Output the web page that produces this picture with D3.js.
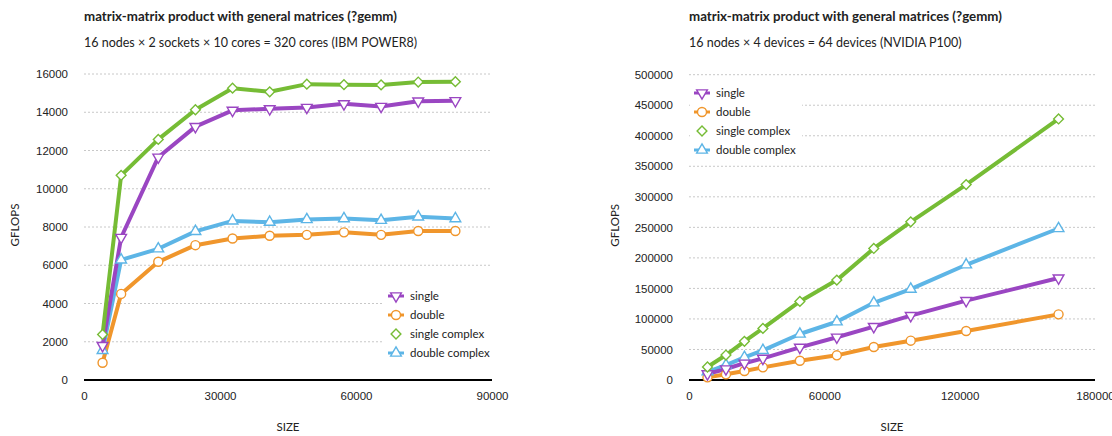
<!DOCTYPE html>
<html>
<head>
<meta charset="utf-8">
<script src="https://cdn.jsdelivr.net/npm/d3@7"></script>
<style>
  html, body { margin: 0; padding: 0; background: #fff; }
  svg { display: block; font-family: Lato, "Noto Sans", sans-serif; }
  .title { font-weight: bold; font-size: 13.3px; fill: #222; }
  .subtitle { font-size: 12.5px; fill: #222; }
  .tick-label { font-size: 11.5px; fill: #222; }
  .axis-title { font-size: 11.5px; fill: #222; }
  .legend-label { font-size: 11.5px; fill: #222; }
</style>
</head>
<body>
<svg id="chart" width="1112" height="436"></svg>
<script>
// Series names and colours shared by both panels
const seriesNames = ["single", "double", "single complex", "double complex"];
const seriesColors = ["#9a46c2", "#f0962c", "#76bc35", "#5db5e6"];

// IBM POWER8 cluster: problem sizes and GFLOPS per precision
const cpuSizes = [4096, 8192, 16384, 24576, 32768, 40960, 49152, 57344, 65536, 73728, 81920];
const cpuSingle = [1800, 7450, 11650, 13250, 14100, 14180, 14250, 14440, 14300, 14580, 14600];
const cpuDouble = [900, 4500, 6180, 7050, 7400, 7540, 7590, 7720, 7590, 7790, 7790];
const cpuSingleComplex = [2380, 10700, 12580, 14130, 15260, 15070, 15470, 15440, 15430, 15580, 15600];
const cpuDoubleComplex = [1550, 6280, 6860, 7770, 8320, 8250, 8390, 8440, 8350, 8530, 8440];
const cpuYTicks = [0, 2000, 4000, 6000, 8000, 10000, 12000, 14000, 16000];
const cpuXTicks = [0, 30000, 60000, 90000];

// NVIDIA P100 cluster: problem sizes and GFLOPS per precision
const gpuSizes = [8192, 16384, 24576, 32768, 49152, 65536, 81920, 98304, 122880, 163840];
const gpuSingle = [10000, 18000, 27500, 35500, 53500, 70000, 87500, 105500, 130000, 167000];
const gpuDouble = [4300, 9300, 14700, 20700, 31600, 40400, 54000, 64400, 80200, 107500];
const gpuSingleComplex = [21300, 40900, 63300, 84500, 128700, 163600, 215400, 259000, 320100, 427500];
const gpuDoubleComplex = [13500, 24500, 37000, 48500, 75300, 95400, 126500, 148900, 188700, 248100];
const gpuYTicks = [0, 50000, 100000, 150000, 200000, 250000, 300000, 350000, 400000, 450000, 500000];
const gpuXTicks = [0, 60000, 120000, 180000];

const title = "matrix-matrix product with general matrices (?gemm)";
const cpuSubtitle = "16 nodes × 2 sockets × 10 cores = 320 cores (IBM POWER8)";
const gpuSubtitle = "16 nodes × 4 devices = 64 devices (NVIDIA P100)";

// markers: down triangle, circle, diamond (square turned 45°), up triangle
const symbols = [
  d3.symbol().type(d3.symbolTriangle).size(50),
  d3.symbol().type(d3.symbolCircle).size(64),
  d3.symbol().type(d3.symbolSquare).size(48),
  d3.symbol().type(d3.symbolTriangle).size(50)
];
const symbolRotate = [180, 0, 45, 0];

const svg = d3.select("#chart");

function drawPanel(cfg) {
  const g = svg.append("g");
  const x = d3.scaleLinear().domain([0, cfg.xMax]).range([cfg.left, cfg.right]);
  const y = d3.scaleLinear().domain([0, cfg.yMax]).range([cfg.bottom, cfg.top]);

  g.append("text").attr("class", "title").attr("x", cfg.left).attr("y", 21).text(title);
  g.append("text").attr("class", "subtitle").attr("x", cfg.left).attr("y", 47).text(cfg.subtitle);

  // dotted gridlines
  g.append("g").selectAll("line")
    .data(cfg.yTicks.filter(d => d > 0)).join("line")
    .attr("x1", cfg.left).attr("x2", cfg.right)
    .attr("y1", d => y(d)).attr("y2", d => y(d))
    .attr("stroke", "#c8c8c8").attr("stroke-width", 1).attr("stroke-dasharray", "2,2");

  // y axis (labels only)
  const yAxis = g.append("g").attr("transform", `translate(${cfg.left},0)`)
    .call(d3.axisLeft(y).tickValues(cfg.yTicks).tickSize(0).tickPadding(16).tickFormat(d3.format("d")));
  yAxis.select(".domain").remove();
  yAxis.selectAll("text").attr("class", "tick-label").attr("font-family", null).attr("font-size", null);

  // x axis
  const xAxis = g.append("g").attr("transform", `translate(0,${cfg.bottom})`)
    .call(d3.axisBottom(x).tickValues(cfg.xTicks).tickSize(0).tickPadding(12).tickFormat(d3.format("d")));
  xAxis.select(".domain").remove();
  xAxis.selectAll("text").attr("class", "tick-label").attr("font-family", null).attr("font-size", null);
  g.append("line").attr("x1", cfg.left).attr("x2", cfg.right)
    .attr("y1", cfg.bottom).attr("y2", cfg.bottom)
    .attr("stroke", "#000").attr("stroke-width", 2);

  g.append("text").attr("class", "axis-title")
    .attr("transform", `translate(${cfg.yTitleX},${(cfg.top + cfg.bottom) / 2 - 2}) rotate(-90)`)
    .attr("text-anchor", "middle").attr("dy", "0.35em").text("GFLOPS");
  g.append("text").attr("class", "axis-title")
    .attr("x", (cfg.left + cfg.right) / 2).attr("y", 431)
    .attr("text-anchor", "middle").text("SIZE");

  // legend background hides the gridlines behind it
  g.append("rect").attr("x", cfg.legend.x - 12).attr("y", cfg.legend.y - 12)
    .attr("width", cfg.legend.w).attr("height", 82).attr("fill", "#fff");

  // series lines and markers
  const line = d3.line().x(d => x(d[0])).y(d => y(d[1]));
  const order = [1, 3, 0, 2];
  order.forEach(i => {
    const pts = cfg.sizes.map((s, k) => [s, cfg.series[i][k]]);
    g.append("path").datum(pts).attr("d", line)
      .attr("fill", "none").attr("stroke", seriesColors[i])
      .attr("stroke-width", 4).attr("stroke-linejoin", "round");
  });
  order.forEach(i => {
    const pts = cfg.sizes.map((s, k) => [s, cfg.series[i][k]]);
    g.append("g").selectAll("path").data(pts).join("path")
      .attr("d", symbols[i])
      .attr("transform", d => `translate(${x(d[0])},${y(d[1])}) rotate(${symbolRotate[i]})`)
      .attr("fill", "#fff").attr("stroke", seriesColors[i]).attr("stroke-width", 1.4);
  });

  // legend
  const lg = g.append("g").attr("transform", `translate(${cfg.legend.x},${cfg.legend.y})`);
  seriesNames.forEach((name, i) => {
    const row = lg.append("g").attr("transform", `translate(0,${i * 19})`);
    if (i !== 2) {
      row.append("line").attr("x1", -8).attr("x2", 8).attr("y1", 0).attr("y2", 0)
        .attr("stroke", seriesColors[i]).attr("stroke-width", 3);
    }
    row.append("path").attr("d", symbols[i])
      .attr("transform", `rotate(${symbolRotate[i]})`)
      .attr("fill", "#fff").attr("stroke", seriesColors[i]).attr("stroke-width", 1.4);
    row.append("text").attr("class", "legend-label").attr("x", 14).attr("dy", "0.35em").text(name);
  });
}

drawPanel({
  left: 84, right: 492, top: 74, bottom: 380, xMax: 90000, yMax: 16000,
  subtitle: cpuSubtitle, sizes: cpuSizes,
  series: [cpuSingle, cpuDouble, cpuSingleComplex, cpuDoubleComplex],
  yTicks: cpuYTicks, xTicks: cpuXTicks, yTitleX: 15,
  legend: { x: 396, y: 296, w: 108 }
});

drawPanel({
  left: 689, right: 1095, top: 74.7, bottom: 380, xMax: 180000, yMax: 500000,
  subtitle: gpuSubtitle, sizes: gpuSizes,
  series: [gpuSingle, gpuDouble, gpuSingleComplex, gpuDoubleComplex],
  yTicks: gpuYTicks, xTicks: gpuXTicks, yTitleX: 615,
  legend: { x: 702, y: 93, w: 112 }
});
</script>
</body>
</html>
